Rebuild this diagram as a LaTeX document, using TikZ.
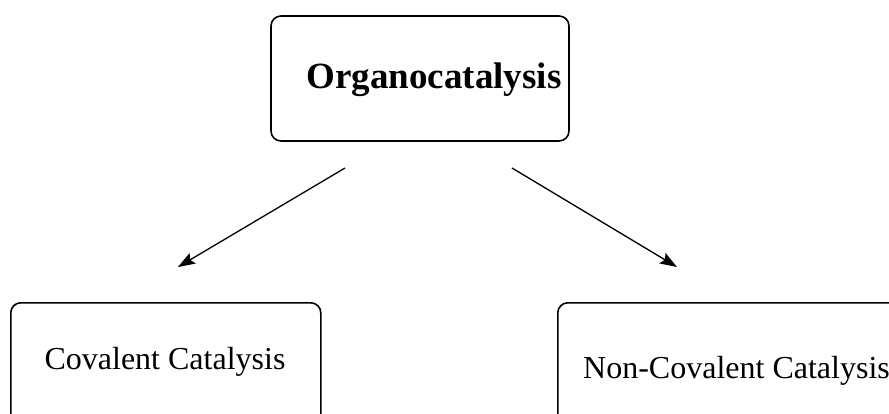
\documentclass[tikz,border=0pt]{standalone}
\usepackage{fontspec}
\setmainfont{Liberation Serif}
\usetikzlibrary{arrows.meta, positioning, calc}

\begin{document}
\begin{tikzpicture}[x=1pt, y=-1pt, box/.style={draw, line width=1.6pt, rounded corners=10pt, inner sep=0pt}, arr/.style={-{Stealth[length=17pt, width=12pt, inset=3pt]}, line width=1.3pt}]
    \useasboundingbox (0,0) rectangle (889,414);
    \clip (0,0) rectangle (889,414);
    % Nodes
    \node (top) [box, minimum width=298pt, minimum height=125pt] at (420,78.5) {};
    \node [anchor=base, font=\bfseries\fontsize{37}{40}\selectfont] at (434,89) {Organocatalysis};
    \node (cov) [box, anchor=north west, minimum width=310pt, minimum height=130pt] at (10,302) {};
    \node [anchor=base, font=\fontsize{32}{36}\selectfont] at (165,369) {Covalent Catalysis};
    \node (ncov) [box, anchor=north west, minimum width=360pt, minimum height=130pt] at (557,302) {};
    \node [anchor=base west, inner sep=0pt, font=\fontsize{32}{36}\selectfont] at (583,378) {Non-Covalent Catalysis};

    % Arrows
    \coordinate (a1) at (345,168);
    \coordinate (a2) at (178,267);
    \coordinate (b1) at (512,168);
    \coordinate (b2) at (677,267);
    \draw[arr] (a1) -- (a2);
    \draw[arr] (b1) -- (b2);
\end{tikzpicture}
\end{document}
